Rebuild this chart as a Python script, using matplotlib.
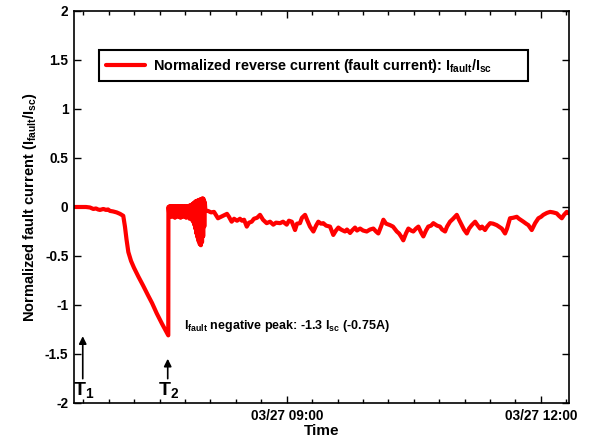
import matplotlib
matplotlib.use("Agg")
import matplotlib.pyplot as plt
import matplotlib.dates as mdates
from matplotlib.patches import Rectangle
import pandas as pd

# ---------------- data (time in minutes after midnight, 03/27) ----------------
pre_minutes = [389.3, 393.5, 397.8, 400.6, 403.0, 404.9, 406.3, 407.7, 410.1, 412.0,
               413.4, 414.8, 416.9, 419.5, 421.9, 424.2,
               425.4, 426.5, 427.8, 429.7, 431.8, 434.9, 438.2, 441.7, 444.6, 447.9,
               451.6, 456.1]
pre_values = [0.0, 0.0, 0.0, -0.005, -0.02, -0.015, -0.025, -0.03, -0.02, -0.03,
              -0.025, -0.04, -0.045, -0.055, -0.07, -0.09,
              -0.2, -0.33, -0.46, -0.55, -0.62, -0.71, -0.80, -0.90, -0.98, -1.085,
              -1.19, -1.31]

band_minutes = [456.2, 456.4, 456.8, 457.2, 457.6, 458.0, 458.4, 458.8, 459.2, 459.6,
                460.0, 460.4, 460.8, 461.2, 461.6, 462.0, 462.4, 462.8, 463.2, 463.6,
                464.0, 464.4, 464.8, 465.2, 465.6, 466.0, 466.4, 466.8, 467.2, 467.6,
                468.0, 468.4, 468.8, 469.2, 469.6, 470.0, 470.4, 470.8, 471.2, 471.6,
                472.0, 472.4, 472.8,
                473.2, 473.6, 474.0, 474.4, 474.8, 475.2, 475.6, 476.0, 476.4, 476.8,
                477.2, 477.6, 478.0, 478.4, 478.8, 479.2, 479.6, 480.0, 480.4, 480.8,
                481.2, 481.6, 482.0, 482.4]
band_values = [0.0, 0.0, -0.09, 0.01, -0.10, 0.0, -0.08, 0.01, -0.10, 0.0,
               -0.09, 0.01, -0.11, 0.0, -0.09, 0.01, -0.10, 0.0, -0.08, 0.01,
               -0.10, 0.0, -0.11, 0.01, -0.09, 0.0, -0.10, 0.01, -0.08, 0.0,
               -0.10, 0.01, -0.11, 0.0, -0.09, 0.01, -0.10, 0.0, -0.12, 0.02,
               -0.11, 0.01, -0.13,
               0.03, -0.15, 0.04, -0.18, 0.05, -0.22, 0.06, -0.27, 0.06, -0.31,
               0.07, -0.35, 0.07, -0.38, 0.08, -0.39, 0.08, -0.36, 0.09, -0.30,
               0.08, -0.20, 0.05, -0.04]

post_minutes = [484.2, 486.4, 488.5, 491.3, 493.4, 495.6, 497.7, 499.1, 501.0, 502.7,
                504.8, 506.9, 508.3, 509.8, 511.7, 513.3, 515.2, 516.8, 519.0, 521.1,
                523.2, 525.8, 528.2, 530.5, 532.4, 535.3, 537.4, 540.0, 541.6, 543.6,
                545.9, 547.3, 549.4, 550.8, 553.0, 554.4, 556.5, 558.9, 560.8, 562.4,
                564.3, 565.9, 567.9, 570.7, 573.0, 574.9, 576.6, 578.5, 581.3, 582.7,
                584.9, 586.3, 588.4, 589.8, 592.0, 594.1, 596.7, 599.0, 601.4, 603.3,
                604.9, 606.8, 608.5, 610.4, 613.2, 615.3, 618.0, 619.6, 621.0, 622.6,
                624.5, 626.2, 628.1, 629.7, 631.6, 633.3, 635.2, 636.8, 638.7, 640.3,
                642.3, 643.9, 646.5, 648.6, 650.1, 652.2, 653.6, 655.7, 657.9, 660.5,
                662.1, 664.0, 665.6, 667.6, 669.2, 671.1, 673.5, 674.9, 677.0, 678.4,
                680.5, 682.0, 684.1, 686.2, 688.8, 690.4, 692.4, 694.7, 696.1, 698.2,
                700.4, 703.0, 704.6, 707.7, 709.6, 711.2, 713.6, 716.0, 718.3, 720.2,
                721.8, 724.4, 726.6, 728.7, 731.3, 732.9, 734.9, 736.5, 738.4, 740.0]
post_values = [-0.04, -0.055, -0.05, -0.115, -0.10, -0.085, -0.07, -0.10, -0.15, -0.12,
               -0.14, -0.12, -0.14, -0.13, -0.20, -0.16, -0.15, -0.12, -0.11, -0.08,
               -0.13, -0.165, -0.15, -0.18, -0.16, -0.165, -0.15, -0.18, -0.14, -0.15,
               -0.235, -0.17, -0.165, -0.11, -0.08, -0.13, -0.20, -0.25, -0.19, -0.15,
               -0.17, -0.165, -0.19, -0.20, -0.285, -0.24, -0.21, -0.23, -0.25, -0.23,
               -0.265, -0.24, -0.21, -0.24, -0.22, -0.24, -0.25, -0.23, -0.22, -0.25,
               -0.27, -0.20, -0.13, -0.17, -0.185, -0.20, -0.25, -0.27, -0.30, -0.34,
               -0.27, -0.22, -0.24, -0.25, -0.22, -0.20, -0.26, -0.30, -0.24, -0.20,
               -0.19, -0.165, -0.19, -0.20, -0.23, -0.25, -0.20, -0.15, -0.12, -0.08,
               -0.13, -0.185, -0.23, -0.27, -0.22, -0.185, -0.15, -0.18, -0.22, -0.20,
               -0.235, -0.20, -0.165, -0.17, -0.185, -0.20, -0.22, -0.27, -0.22, -0.115,
               -0.11, -0.10, -0.12, -0.15, -0.17, -0.185, -0.235, -0.165, -0.115, -0.10,
               -0.08, -0.06, -0.05, -0.055, -0.065, -0.09, -0.115, -0.08, -0.05, -0.065]

y_ticks = [-2, -1.5, -1, -0.5, 0, 0.5, 1, 1.5, 2]
y_tick_labels = ["-2", "-1.5", "-1", "-0.5", "0", "0.5", "1", "1.5", "2"]
major_tick_times = ["09:00", "12:00"]
x_start, x_end = 389.3, 740.0
peak_text = r"$\mathrm{I_{fault}}$ negative peak: -1.3 $\mathrm{I_{sc}}$ (-0.75A)"
legend_label = r"Normalized reverse current (fault current): $\mathrm{I_{fault}/I_{sc}}$"
ylabel_text = r"Normalized fault current ($\mathrm{I_{fault}/I_{sc}}$)"

# ---------------- styling ----------------
plt.rcParams["font.family"] = ["Liberation Sans", "DejaVu Sans"]
plt.rcParams["font.weight"] = "bold"
plt.rcParams["mathtext.fontset"] = "custom"
plt.rcParams["mathtext.rm"] = "Liberation Sans:bold"
plt.rcParams["mathtext.it"] = "Liberation Sans:bold"
plt.rcParams["mathtext.bf"] = "Liberation Sans:bold"

day = pd.Timestamp("2016-03-27")
def to_dt(mins):
    return [day + pd.Timedelta(minutes=float(m)) for m in mins]

minutes = pre_minutes + band_minutes + post_minutes
values = pre_values + band_values + post_values
times = to_dt(minutes)

fig = plt.figure(figsize=(5.9, 4.41), dpi=100)
ax = fig.add_axes([0.12542, 0.08617, 0.83898, 0.88889])

ax.plot(times, values, color="#ff0000", lw=3.0, solid_joinstyle="round",
        solid_capstyle="round", label=legend_label)

ax.set_xlim(to_dt([x_start])[0], to_dt([x_end])[0])
ax.set_ylim(-2, 2)

ax.set_yticks(y_ticks)
ax.set_yticklabels(y_tick_labels)

major_dt = [day + pd.Timedelta(t + ":00") for t in major_tick_times]
ax.set_xticks(major_dt)
ax.xaxis.set_major_formatter(mdates.DateFormatter("%m/%d %H:%M"))
nine = major_dt[0]
minor_dt = [nine + pd.Timedelta(minutes=18 * k) for k in range(-9, 13)]
minor_dt = [d for d in minor_dt if to_dt([x_start])[0] <= d <= to_dt([x_end])[0]]
ax.set_xticks(minor_dt, minor=True)

ax.tick_params(axis="both", which="major", direction="in", length=5, width=1,
               top=True, right=True, labelsize=9.8, pad=4)
ax.tick_params(axis="x", which="minor", direction="in", length=3, width=1,
               top=True, bottom=True)
for lab in ax.get_xticklabels() + ax.get_yticklabels():
    lab.set_fontweight("bold")
for sp in ax.spines.values():
    sp.set_linewidth(1.2)

ax.set_xlabel("Time", fontsize=11, fontweight="bold", labelpad=1)
ax.set_ylabel(ylabel_text, fontsize=10.5, fontweight="bold", labelpad=4)

# legend (frame drawn separately to match the wide MATLAB box)
leg = ax.legend(loc="upper left", bbox_to_anchor=(0.0505, 0.9005), borderaxespad=0,
                frameon=False, fontsize=10.4,
                handlelength=2.7, handletextpad=0.55, borderpad=0.5)
for t in leg.get_texts():
    t.set_fontweight("bold")
ax.add_patch(Rectangle((0.0505, 0.821), 0.8665, 0.0795, transform=ax.transAxes,
                       fill=False, edgecolor="black", lw=1.5, zorder=5))

# annotation for negative peak
ax.text(to_dt([467.2])[0], -1.25, peak_text, fontsize=9, fontweight="bold",
        ha="left", va="baseline")

# arrows T1 and T2
arrow_props = dict(arrowstyle="-|>", color="black", lw=1.2, mutation_scale=11)
ax.annotate("", xy=(to_dt([395.5])[0], -1.29), xytext=(to_dt([395.5])[0], -1.78),
            arrowprops=arrow_props)
ax.annotate("", xy=(to_dt([455.7])[0], -1.52), xytext=(to_dt([455.7])[0], -1.78),
            arrowprops=arrow_props)
ax.text(to_dt([388.8])[0], -1.92, r"$\mathrm{T_1}$", fontsize=14, ha="left",
        va="baseline", clip_on=False)
ax.text(to_dt([449.0])[0], -1.92, r"$\mathrm{T_2}$", fontsize=14, ha="left",
        va="baseline", clip_on=False)

fig.savefig("out.png", dpi=100)
